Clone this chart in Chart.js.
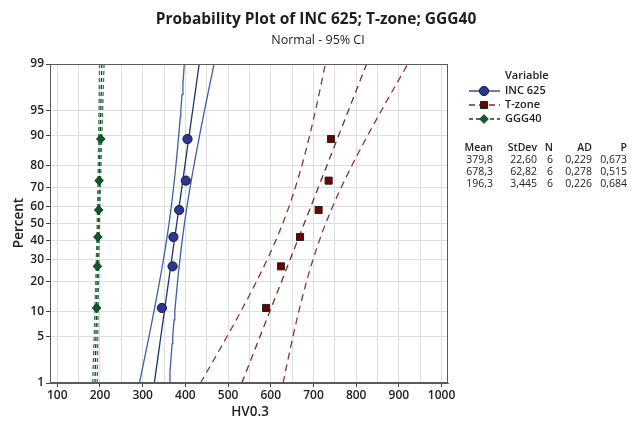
<!DOCTYPE html>
<html><head><meta charset="utf-8">
<script src="https://cdn.jsdelivr.net/npm/chart.js@4.4.1/dist/chart.umd.min.js"></script>
<style>html,body{margin:0;padding:0;background:#fff;}#wrap{width:640px;height:423px;position:relative;}</style>
</head><body><div id="wrap"><canvas id="c"></canvas></div>
<script>
// ---- data ----
const seriesNames = ['INC 625', 'T-zone', 'GGG40'];
const plotPercents = [10.9, 26.6, 42.2, 57.8, 73.4, 89.1];
const inc625Values = [345, 370, 372, 385.5, 401, 405];
const tzoneValues = [589, 624, 668.5, 712, 735.5, 741];
const ggg40Values = [192, 194, 195, 197, 198, 202];
const meanValues = [379.8, 678.3, 196.3];
const stdevValues = [22.60, 62.82, 3.445];
const nValues = [6, 6, 6];
const adValues = [0.229, 0.278, 0.226];
const pValues = [0.673, 0.515, 0.684];
const percentTicks = [1, 5, 10, 20, 30, 40, 50, 60, 70, 80, 90, 95, 99];
const hvTickLabels = [100, 200, 300, 400, 500, 600, 700, 800, 900, 1000];
const hvGridValues = [100, 150, 200, 250, 300, 350, 400, 450, 500, 550, 600, 650, 700, 750, 800, 850, 900, 950, 1000];
const curvePercents = [1, 1.5, 2, 3, 4, 5, 6, 8, 10, 13, 16, 20, 25, 30, 35, 40, 45, 50, 55, 60, 65, 70, 75, 80, 84, 87, 90, 92, 94, 95, 96, 97, 98, 98.5, 99];

// ---- normal helpers ----
function normInv(p) {
  const a = [-3.969683028665376e+01, 2.209460984245205e+02, -2.759285104469687e+02, 1.383577518672690e+02, -3.066479806614716e+01, 2.506628277459239e+00];
  const b = [-5.447609879822406e+01, 1.615858368580409e+02, -1.556989798598866e+02, 6.680131188771972e+01, -1.328068155288572e+01];
  const c = [-7.784894002430293e-03, -3.223964580411365e-01, -2.400758277161838e+00, -2.549732539343734e+00, 4.374664141464968e+00, 2.938163982698783e+00];
  const d = [7.784695709041462e-03, 3.224671290700398e-01, 2.445134137142996e+00, 3.754408661907416e+00];
  const pl = 0.02425, ph = 1 - pl;
  let q, r;
  if (p < pl) { q = Math.sqrt(-2 * Math.log(p)); return (((((c[0]*q+c[1])*q+c[2])*q+c[3])*q+c[4])*q+c[5]) / ((((d[0]*q+d[1])*q+d[2])*q+d[3])*q+1); }
  if (p <= ph) { q = p - 0.5; r = q*q; return (((((a[0]*r+a[1])*r+a[2])*r+a[3])*r+a[4])*r+a[5])*q / (((((b[0]*r+b[1])*r+b[2])*r+b[3])*r+b[4])*r+1); }
  q = Math.sqrt(-2 * Math.log(1 - p)); return -(((((c[0]*q+c[1])*q+c[2])*q+c[3])*q+c[4])*q+c[5]) / ((((d[0]*q+d[1])*q+d[2])*q+d[3])*q+1);
}
function normCdf(z) {
  const t = 1 / (1 + 0.2316419 * Math.abs(z));
  const y = t * (0.319381530 + t * (-0.356563782 + t * (1.781477937 + t * (-1.821255978 + t * 1.330274429))));
  const p = 1 - 0.3989422804014327 * Math.exp(-z * z / 2) * y;
  return z >= 0 ? p : 1 - p;
}

// ---- probability (normal) scale ----
class ProbabilityScale extends Chart.Scale {
  determineDataLimits() { this.min = this.options.min; this.max = this.options.max; }
  buildTicks() { return percentTicks.map(v => ({ value: v })); }
  getLabelForValue(v) { return String(v); }
  configure() {
    super.configure();
    this._zs = normInv(this.min / 100);
    this._zr = normInv(this.max / 100) - this._zs;
  }
  getPixelForValue(v) {
    if (v === null || v === undefined || isNaN(v)) return NaN;
    return this.getPixelForDecimal((normInv(v / 100) - this._zs) / this._zr);
  }
  getValueForPixel(px) { return 100 * normCdf(this._zs + this.getDecimalForPixel(px) * this._zr); }
}
ProbabilityScale.id = 'probability';
ProbabilityScale.defaults = {};
Chart.register(ProbabilityScale);

// ---- build datasets ----
const valueSets = [inc625Values, tzoneValues, ggg40Values];
const styles = [
  { fit: '#26306a', ci: '#3d5fa6', dash: [], ciDash: [], width: 1.3, pStyle: 'circle', pRadius: 4.6, pFill: '#2b3792', pBorder: '#15183f' },
  { fit: '#7a2a2a', ci: '#8e3434', dash: [7, 5], ciDash: [7, 5], width: 1.3, pStyle: 'rect', pRadius: 5, pFill: '#6e0000', pBorder: '#222222' },
  { fit: '#203a28', ci: '#2f8048', dash: [4, 3], ciDash: [4, 3], width: 1.3, pStyle: 'rectRot', pRadius: 4.3, pFill: '#0e5a2a', pBorder: '#0a3a1a' }
];
const pointSets = [], lineSets = [];
valueSets.forEach((vals, s) => {
  const st = styles[s];
  pointSets.push({
    label: seriesNames[s],
    data: vals.map((v, i) => ({ x: v, y: plotPercents[i] })),
    showLine: false, pointStyle: st.pStyle, pointRadius: st.pRadius,
    backgroundColor: st.pFill, borderColor: st.pBorder, pointBorderWidth: 1, pointHoverRadius: st.pRadius
  });
  const m = meanValues[s], sd = stdevValues[s], n = nValues[s];
  const fit = [], lo = [], hi = [];
  curvePercents.forEach(p => {
    const z = normInv(p / 100);
    const c = m + z * sd;
    const h = 1.959964 * sd * Math.sqrt(1 / n + z * z / (2 * n));
    fit.push({ x: c, y: p }); lo.push({ x: c - h, y: p }); hi.push({ x: c + h, y: p });
  });
  [[lo, st.ci, st.ciDash], [fit, st.fit, st.dash], [hi, st.ci, st.ciDash]].forEach(([d, col, dash]) => {
    lineSets.push({ data: d, showLine: true, pointRadius: 0, pointHoverRadius: 0, borderColor: col, borderWidth: st.width, borderDash: dash, tension: 0 });
  });
});

// ---- text/legend plugin ----
const FONT = '"Open Sans", "Noto Sans", sans-serif';
const decorPlugin = {
  id: 'decor',
  afterDraw(chart) {
    const ctx = chart.ctx, a = chart.chartArea;
    ctx.save();
    // frame
    ctx.strokeStyle = '#5a5a5a'; ctx.lineWidth = 1;
    ctx.strokeRect(Math.round(a.left) + 0.5, Math.round(a.top) + 0.5, Math.round(a.right - a.left) - 1, Math.round(a.bottom - a.top) - 1);
    // titles
    ctx.fillStyle = '#1e1e1e'; ctx.textAlign = 'center'; ctx.textBaseline = 'middle';
    ctx.font = '700 15.5px ' + FONT; ctx.fillText('Probability Plot of INC 625; T-zone; GGG40', 316, 20);
    ctx.font = '400 12.5px ' + FONT; ctx.fillText('Normal - 95% CI', 318, 40);
    // axis titles
    ctx.font = '600 13.5px ' + FONT; ctx.fillStyle = '#222';
    ctx.fillText('HV0.3', 250, 412);
    ctx.save(); ctx.translate(19, 223); ctx.rotate(-Math.PI / 2); ctx.fillText('Percent', 0, 0); ctx.restore();
    // legend
    ctx.textAlign = 'left';
    ctx.font = '600 11px ' + FONT; ctx.fillStyle = '#222';
    ctx.fillText('Variable', 505, 76);
    const rows = [91, 105, 119];
    seriesNames.forEach((name, s) => {
      const st = styles[s], y = rows[s];
      ctx.save();
      ctx.strokeStyle = st.fit; ctx.lineWidth = 1.3; ctx.setLineDash(s === 0 ? [] : (s === 1 ? [6, 4] : [4, 3]));
      ctx.beginPath(); ctx.moveTo(469, y); ctx.lineTo(500, y); ctx.stroke();
      ctx.setLineDash([]);
      ctx.fillStyle = st.pFill; ctx.strokeStyle = st.pBorder; ctx.lineWidth = 1;
      Chart.helpers.drawPoint(ctx, { pointStyle: st.pStyle, radius: st.pRadius, rotation: 0, borderWidth: 1 }, 484, y);
      ctx.restore();
      ctx.fillStyle = '#222'; ctx.font = '600 11px ' + FONT;
      ctx.fillText(name, 505, y);
    });
    // stats table
    const colRight = [493, 537, 553, 592, 627];
    const header = ['Mean', 'StDev', 'N', 'AD', 'P'];
    ctx.textAlign = 'right'; ctx.font = '600 10.5px ' + FONT;
    header.forEach((h, i) => ctx.fillText(h, colRight[i], 148));
    ctx.font = '400 10.5px ' + FONT;
    const fmt = v => String(v).replace('.', ',');
    seriesNames.forEach((name, s) => {
      const y = 160 + s * 12;
      const cells = [fmt(meanValues[s].toPrecision(4)), fmt(stdevValues[s].toPrecision(4)), String(nValues[s]), fmt(adValues[s].toFixed(3)), fmt(pValues[s].toFixed(3))];
      cells.forEach((c, i) => ctx.fillText(c, colRight[i], y));
    });
    ctx.restore();
  }
};

new Chart(document.getElementById('c'), {
  type: 'scatter',
  data: { datasets: [...pointSets, ...lineSets] },
  options: {
    responsive: true, maintainAspectRatio: false, animation: false,
    layout: { padding: { top: 64, right: 192, left: 0, bottom: 0 } },
    plugins: { legend: { display: false }, title: { display: false }, tooltip: { enabled: false } },
    scales: {
      x: {
        type: 'linear', min: 83, max: 1015,
        afterBuildTicks: s => { s.ticks = hvGridValues.map(v => ({ value: v })); },
        afterFit: s => { s.height = 40; },
        ticks: { autoSkip: false, maxRotation: 0, padding: 1, color: '#222', font: { family: FONT, size: 12, weight: '600' },
          callback: v => hvTickLabels.includes(v) ? String(v) : '' },
        grid: { color: '#dedede', lineWidth: 1, tickLength: 4,
          tickColor: c => (c.tick && hvTickLabels.includes(c.tick.value)) ? '#444' : 'rgba(0,0,0,0)' },
        border: { color: '#5a5a5a', width: 1 }
      },
      y: {
        type: 'probability', min: 1, max: 99,
        afterFit: s => { s.width = 50; },
        ticks: { autoSkip: false, padding: 2, color: '#222', font: { family: FONT, size: 12, weight: '600' }, callback: v => String(v) },
        grid: { color: '#dedede', lineWidth: 1, tickLength: 4, tickColor: '#444' },
        border: { color: '#5a5a5a', width: 1 }
      }
    }
  },
  plugins: [decorPlugin]
});
</script></body></html>
